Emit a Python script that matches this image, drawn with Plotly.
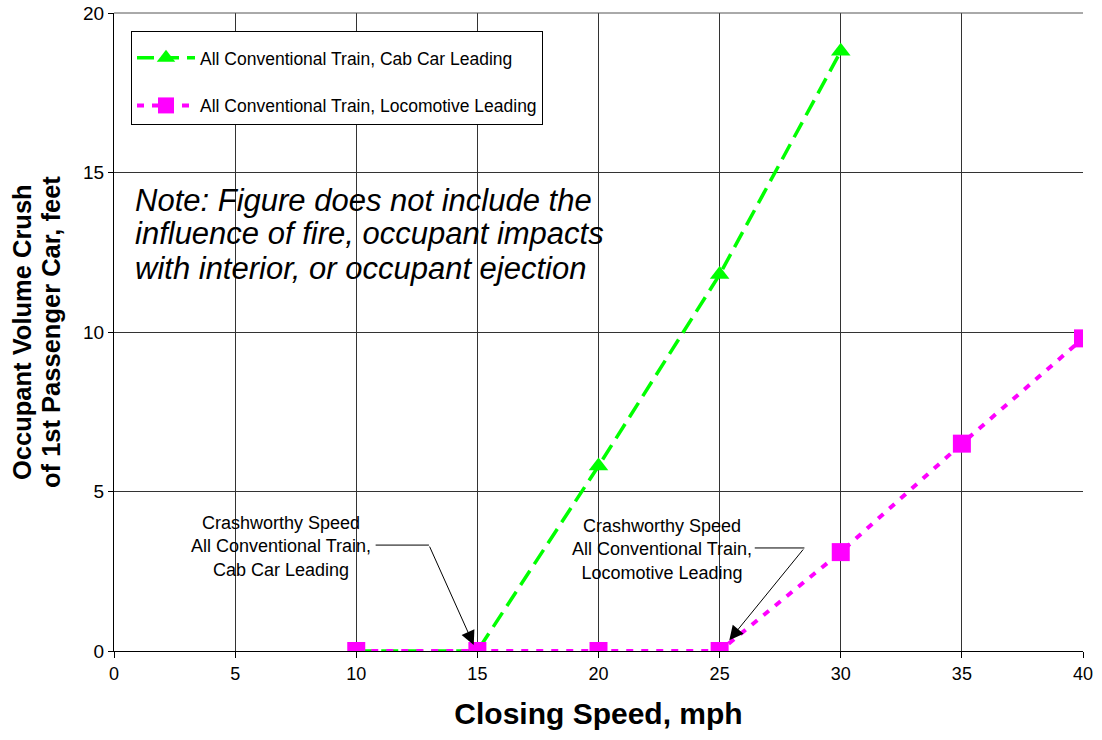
import plotly.graph_objects as go

cab_speed = [10, 15, 20, 25, 30]
cab_crush = [0, 0, 5.8, 11.8, 18.8]
loco_speed = [10, 15, 20, 25, 30, 35, 40]
loco_crush = [0, 0, 0, 0, 3.1, 6.5, 9.8]

x_ticks = [0, 5, 10, 15, 20, 25, 30, 35, 40]
y_ticks = [0, 5, 10, 15, 20]

note_lines = ["Note: Figure does not include the",
              "influence of fire, occupant impacts",
              "with interior, or occupant ejection"]
y_title_lines = ["Occupant Volume Crush", "of 1st Passenger Car, feet"]

FONT = "Liberation Sans, Arial, sans-serif"

L, R, T, B = 114, 19, 13, 89
W, H = 1102, 740
PW, PH = W - L - R, H - T - B


def px_x(p):
    return (p - L) / PW


def px_y(p):
    return (H - B - p) / PH


fig = go.Figure()
fig.add_trace(go.Scatter(
    x=cab_speed, y=cab_crush, mode="lines+markers",
    name="All Conventional Train, Cab Car Leading", legendgroup="a",
    line=dict(color="#00FF00", width=3.5, dash="17px,8px"),
    marker=dict(symbol="triangle-up", size=17, color="#00FF00"),
))
fig.add_trace(go.Scatter(
    x=loco_speed, y=loco_crush, mode="lines+markers",
    name="All Conventional Train, Locomotive Leading", legendgroup="b",
    line=dict(color="#FF00FF", width=4, dash="7px,8px"),
    marker=dict(symbol="square", size=18, color="#FF00FF"),
))

# Note text
for line, py in zip(note_lines, [200, 234, 268]):
    fig.add_annotation(
        x=px_x(133), y=px_y(py), xref="paper", yref="paper",
        xanchor="left", yanchor="middle", text=line, showarrow=False,
        font=dict(family=FONT, size=31, color="black", style="italic"),
    )

# Y title lines
for line, px in zip(y_title_lines, [22, 51]):
    fig.add_annotation(
        x=px_x(px), y=px_y(332), xref="paper", yref="paper",
        xanchor="center", yanchor="middle", text="<b>" + line + "</b>",
        textangle=-90, showarrow=False,
        font=dict(family=FONT, size=25.5, color="black"),
    )

# Callout 1
fig.add_annotation(
    x=6.91, y=3.28, xref="x", yref="y",
    text="Crashworthy Speed<br>All Conventional Train,<br>Cab Car Leading",
    showarrow=False, align="center",
    font=dict(family=FONT, size=18, color="black"),
)
fig.add_shape(type="line", x0=10.8, x1=13.0, y0=3.32, y1=3.32,
              line=dict(color="black", width=1))
fig.add_annotation(
    x=14.85, y=0.19, ax=13.0, ay=3.32, xref="x", yref="y", axref="x", ayref="y",
    text="", showarrow=True, arrowhead=2, arrowsize=2.8, arrowwidth=1, arrowcolor="black",
)

# Callout 2
fig.add_annotation(
    x=22.63, y=3.17, xref="x", yref="y",
    text="Crashworthy Speed<br>All Conventional Train,<br>Locomotive Leading",
    showarrow=False, align="center",
    font=dict(family=FONT, size=18, color="black"),
)
fig.add_shape(type="line", x0=26.45, x1=28.5, y0=3.23, y1=3.23,
              line=dict(color="black", width=1))
fig.add_annotation(
    x=25.4, y=0.34, ax=28.5, ay=3.23, xref="x", yref="y", axref="x", ayref="y",
    text="", showarrow=True, arrowhead=2, arrowsize=2.8, arrowwidth=1, arrowcolor="black",
)

fig.update_layout(
    width=W, height=H,
    margin=dict(l=L, r=R, t=T, b=B, autoexpand=False),
    paper_bgcolor="white", plot_bgcolor="white",
    font=dict(family=FONT, color="black"),
    showlegend=True,
    legend=dict(
        x=px_x(131), y=px_y(31), xanchor="left", yanchor="top",
        bgcolor="white", bordercolor="black", borderwidth=1,
        font=dict(family=FONT, size=17.5, color="black"),
        itemwidth=58, tracegroupgap=22, traceorder="grouped",
        title=dict(text=" ", font=dict(size=6)),
    ),
    xaxis=dict(
        range=[0, 40], tickvals=x_ticks, ticks="outside", ticklen=6,
        tickcolor="black", showgrid=True, gridcolor="#333333", gridwidth=1,
        showline=True, linecolor="black", mirror=False, zeroline=False,
        automargin=False,
        tickfont=dict(family=FONT, size=18, color="black"),
        title=dict(text="<b>Closing Speed, mph</b>", standoff=20,
                   font=dict(family=FONT, size=30, color="black")),
    ),
    yaxis=dict(
        range=[0, 20], tickvals=y_ticks, ticks="outside", ticklen=5,
        tickcolor="black", showgrid=True, gridcolor="#333333", gridwidth=1,
        showline=True, linecolor="black", zeroline=False,
        automargin=False,
        tickfont=dict(family=FONT, size=19, color="black"),
    ),
)
fig.add_shape(type="line", xref="paper", yref="paper", x0=0, x1=1, y0=1, y1=1,
              line=dict(color="#555555", width=1))

fig.write_html("out.html")
